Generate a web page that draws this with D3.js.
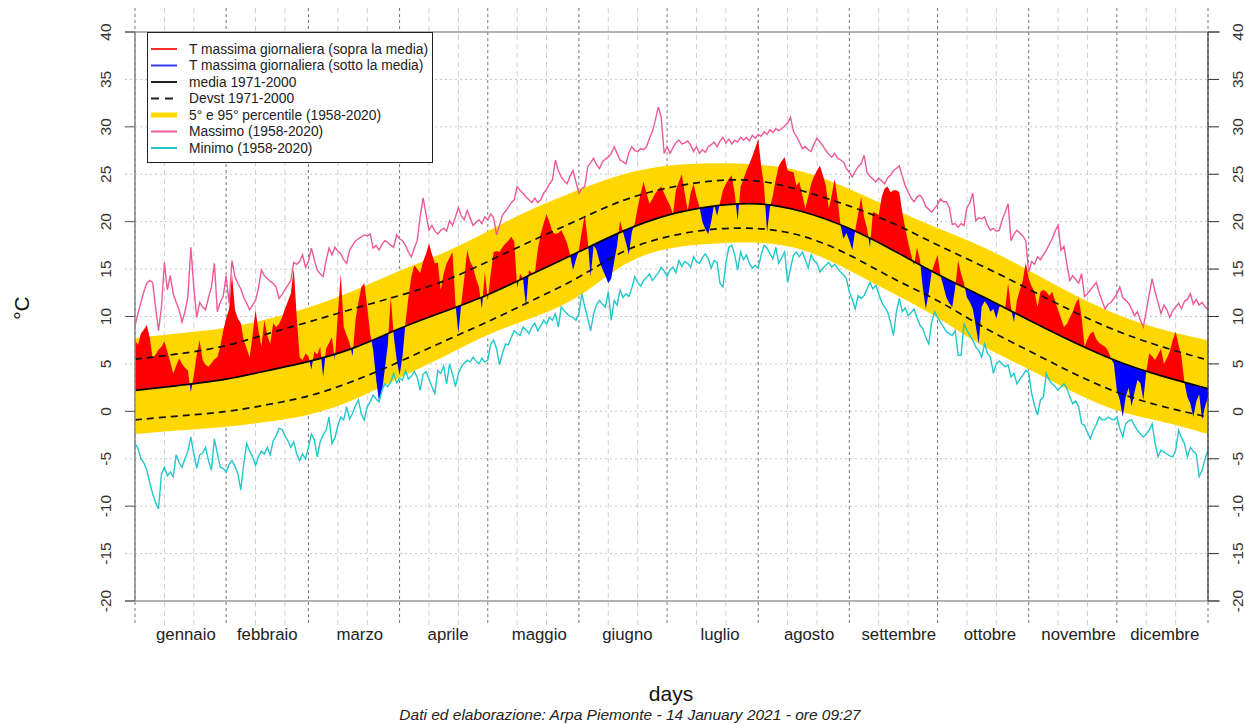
<!DOCTYPE html>
<html>

<head>
    <meta charset="utf-8">
    <style>
        body {
            margin: 0;
            background: #fff;
        }

        svg {
            display: block;
            font-family: "Liberation Sans", Arial, sans-serif;
        }

        .ylab {
            font-size: 15.5px;
            fill: #333;
        }

        .month {
            font-size: 16.8px;
            fill: #222;
        }

        .legend text {
            font-size: 13.8px;
            fill: #222;
        }
    </style>
</head>

<body>
    <svg width="1245" height="724"></svg>
</body>

<script src="https://cdn.jsdelivr.net/npm/d3@7"></script>

<script>
    // climatology, read every ~15 days off the picture
    let climDays = [1, 15, 32, 46, 60, 75, 91, 106, 121, 136, 152, 167, 182, 197, 213, 228, 244, 259, 274, 289, 305, 320, 335, 350, 366]
    let meanT = [2.2, 2.7, 3.3, 4.3, 5.2, 6.5, 8.8, 10.5, 12.2, 14.5, 16.8, 19.1, 20.8, 21.7, 22.1, 21.2, 19.4, 17.0, 14.4, 12.2, 9.6, 7.3, 5.2, 3.7, 2.4]
    let devUp = [5.5, 6.0, 6.8, 8.2, 9.4, 10.8, 12.2, 13.6, 15.8, 18.0, 20.2, 22.4, 23.6, 24.4, 24.5, 23.3, 21.7, 19.9, 17.5, 15.4, 12.9, 10.5, 8.4, 6.8, 5.4]
    let devDown = [-0.9, -0.5, -0.1, 0.7, 1.5, 3.1, 5.2, 7.4, 9.4, 11.7, 14.0, 17.1, 18.5, 19.3, 19.4, 18.7, 16.6, 13.9, 11.8, 8.9, 6.4, 4.0, 1.9, 0.5, -0.6]
    let p95 = [7.7, 8.2, 8.7, 9.7, 10.9, 12.6, 14.9, 16.6, 19.0, 21.4, 23.4, 25.1, 26.0, 26.2, 26.1, 25.5, 23.5, 21.3, 19.3, 17.5, 14.9, 12.3, 10.1, 8.6, 7.5]
    let p5 = [-2.4, -2.0, -1.7, -1.1, -0.5, 1.0, 3.6, 5.7, 8.2, 9.8, 11.8, 15.8, 17.3, 17.7, 17.9, 17.3, 14.9, 12.4, 10.0, 6.8, 4.5, 2.0, -0.1, -1.0, -2.4]

    // daily maximum temperature 2020 (day 1..366)
    let tmax2020 = [
        7.5, 7.0, 8.2, 8.6, 9.1, 7.8, 5.6, 6.0, 6.5, 6.8,
        7.4, 6.3, 5.2, 4.0, 4.8, 5.6, 5.0, 4.6, 4.3, 2.0,
        3.8, 6.0, 7.5, 5.4, 4.9, 4.7, 5.1, 5.5, 5.7, 6.8,
        8.5, 9.8, 10.8, 14.5, 10.7, 9.8, 9.3, 7.5, 6.6, 5.7,
        8.0, 10.7, 8.5, 6.8, 9.6, 8.0, 7.1, 9.3, 8.9, 9.2,
        9.9, 10.8, 11.6, 12.4, 15.1, 10.0, 5.7, 5.4, 6.1, 5.8,
        4.4, 6.3, 6.0, 6.8, 3.6, 6.6, 7.2, 7.8, 5.4, 10.3,
        14.5, 8.9, 8.0, 7.2, 5.8, 9.6, 11.5, 13.1, 13.5, 11.0,
        8.2, 6.5, 3.5, 1.0, 2.0, 4.5, 7.0, 12.1, 8.0, 5.5,
        3.8, 5.8, 9.3, 12.0, 14.2, 15.4, 15.0, 14.6, 15.8, 16.6,
        17.7, 16.6, 15.6, 15.7, 12.8, 14.5, 15.6, 16.2, 16.8, 11.4,
        8.2, 11.4, 14.0, 17.0, 15.8, 15.2, 14.0, 13.1, 10.8, 14.7,
        11.7, 14.5, 16.8, 16.9, 16.8, 17.3, 17.7, 18.0, 18.4, 17.9,
        13.0, 14.5, 14.0, 11.0, 14.9, 14.6, 14.5, 17.0, 18.7, 19.8,
        20.8, 19.9, 18.9, 18.7, 18.8, 19.1, 18.5, 17.7, 16.5, 14.9,
        16.0, 17.0, 19.0, 20.7, 18.0, 14.2, 17.5, 17.0, 15.8, 15.0,
        14.3, 13.5, 14.0, 15.8, 17.5, 20.1, 18.9, 17.8, 16.5, 18.9,
        19.8, 21.5, 23.0, 24.2, 23.0, 21.9, 22.4, 23.0, 23.4, 23.7,
        23.0, 22.3, 21.7, 20.8, 23.3, 24.2, 25.0, 23.0, 21.2, 23.0,
        24.0, 22.6, 21.6, 20.0, 19.2, 18.7, 20.0, 21.8, 20.6, 22.0,
        23.3, 24.0, 24.5, 24.9, 23.0, 20.1, 23.7, 24.5, 25.4, 26.1,
        26.9, 27.8, 28.7, 25.9, 23.7, 18.9, 21.5, 22.8, 24.5, 25.9,
        26.4, 26.8, 25.4, 25.3, 25.2, 23.8, 24.2, 22.8, 21.4, 22.6,
        24.0, 24.8, 25.4, 25.9, 24.9, 23.8, 21.4, 22.8, 24.5, 22.4,
        19.6, 18.2, 18.8, 18.0, 17.0, 19.1, 20.8, 22.6, 20.5, 19.3,
        17.3, 21.0, 20.9, 20.7, 22.6, 23.5, 23.7, 23.1, 23.3, 23.3,
        23.1, 21.0, 19.3, 17.8, 16.5, 15.4, 17.3, 16.0, 13.0, 10.8,
        12.5, 14.7, 15.6, 16.5, 14.3, 13.2, 12.0, 11.4, 11.0, 13.0,
        15.9, 14.5, 13.5, 12.0, 11.5, 10.8, 9.0, 7.1, 11.0, 11.6,
        11.2, 10.5, 10.8, 9.8, 11.0, 11.2, 10.8, 13.5, 10.9, 9.4,
        11.7, 12.8, 13.8, 15.7, 14.0, 13.2, 12.6, 11.0, 12.6, 12.8,
        12.6, 12.2, 12.6, 11.6, 10.7, 9.8, 8.9, 9.2, 9.9, 10.5,
        11.4, 11.9, 10.0, 6.8, 7.6, 8.2, 8.4, 7.6, 7.2, 7.0,
        6.8, 6.4, 5.6, 5.0, 2.2, 1.2, -0.6, 1.5, 2.5, 0.5,
        2.0, 3.3, 3.0, 1.2, 4.2, 6.1, 5.8, 5.4, 6.0, 6.6,
        5.0, 5.6, 6.3, 7.5, 8.4, 7.0, 5.7, 3.0, 1.5, 0.8,
        -0.6, 1.0, 1.8, -0.9, 0.5, 1.5
    ]

    // record maximum 1958-2020
    let recMax = [
        9.0, 10.3, 11.5, 12.6, 13.5, 13.8, 13.6, 11.0, 8.5, 11.0,
        15.7, 12.8, 14.3, 12.4, 11.5, 10.7, 9.4, 10.5, 12.1, 17.3,
        13.1, 9.9, 11.5, 11.0, 10.7, 12.0, 13.1, 15.6, 10.5, 11.5,
        12.1, 14.3, 11.4, 15.9, 14.2, 13.5, 12.9, 12.0, 11.4, 10.7,
        11.2, 11.7, 13.0, 14.9, 14.3, 14.0, 13.7, 13.5, 13.1, 11.9,
        12.3, 12.8, 13.3, 13.8, 15.7, 15.5, 15.8, 16.5, 15.2, 15.8,
        17.2, 16.0, 14.9, 14.5, 14.2, 15.9, 17.2, 16.5, 17.3, 16.9,
        16.6, 16.0, 15.6, 17.0, 17.5, 18.0, 18.2, 18.4, 18.6, 18.5,
        18.7, 17.2, 17.5, 17.0, 17.6, 18.0, 17.8, 17.5, 17.3, 18.6,
        18.2, 18.0, 17.5, 16.8, 16.3, 17.2, 18.0, 20.5, 22.5, 20.8,
        19.1, 19.6, 19.0, 18.7, 19.1, 19.3, 19.0, 20.1, 19.6, 20.5,
        21.5, 20.6, 20.2, 21.2, 20.4, 19.6, 19.9, 20.2, 19.8, 20.5,
        20.2, 20.8, 20.4, 18.6, 19.6, 20.7, 21.1, 21.5, 22.0, 22.3,
        23.7, 23.3, 23.0, 22.6, 22.3, 22.0, 22.5, 22.0, 22.3, 23.0,
        23.4, 24.0, 24.4, 26.5, 25.4, 24.7, 24.3, 24.0, 24.8, 25.4,
        24.2, 23.0, 23.5, 23.7, 25.8, 26.2, 26.7, 26.0, 25.6, 26.3,
        26.6, 26.8, 27.2, 27.9, 27.2, 26.5, 26.3, 26.1, 27.3, 27.9,
        27.5, 27.4, 27.7, 27.6, 27.9, 28.8, 29.5, 30.7, 32.1, 31.0,
        27.2, 27.9, 27.2, 27.8, 28.3, 28.6, 28.2, 28.3, 28.5, 28.1,
        27.4, 27.9, 27.2, 27.6, 27.3, 27.9, 28.1, 28.4, 27.9, 28.5,
        28.9, 28.3, 28.7, 28.2, 28.6, 28.4, 28.9, 28.6, 28.9, 28.5,
        29.1, 28.8, 29.2, 29.0, 29.5, 29.2, 29.7, 29.4, 29.8, 29.6,
        29.8, 30.1, 30.4, 31.0, 29.5, 29.0, 28.4, 27.7, 27.9, 27.6,
        27.4, 28.2, 28.8, 28.4, 28.0, 27.5, 27.1, 26.8, 27.2, 26.7,
        26.5, 26.3, 25.6, 25.2, 24.7, 25.3, 25.8, 26.1, 27.0, 25.2,
        24.8, 24.5, 24.2, 24.6, 24.3, 24.0, 24.6, 24.9, 25.4, 25.6,
        25.9, 24.8, 23.8, 23.1, 22.5, 22.1, 22.6, 22.8, 22.4, 21.6,
        21.3, 21.0, 21.4, 21.8, 22.4, 22.1, 22.1, 21.5, 19.7, 19.8,
        19.4, 19.8, 19.6, 21.5, 22.0, 23.0, 20.1, 20.4, 20.3, 20.5,
        19.6, 19.1, 19.3, 19.0, 19.1, 20.2, 21.0, 21.9, 18.0, 18.7,
        19.1, 18.8, 18.5, 18.0, 14.7, 15.8, 15.5, 16.3, 16.0, 16.5,
        17.0, 17.6, 18.2, 19.0, 19.6, 17.0, 17.4, 15.5, 13.8, 14.3,
        13.9, 13.5, 14.5, 12.1, 12.4, 12.8, 13.2, 13.6, 12.5, 11.6,
        10.8, 11.3, 11.5, 11.9, 12.4, 13.1, 12.0, 11.7, 11.4, 10.8,
        10.1, 10.5, 9.6, 8.9, 10.6, 12.3, 14.0, 12.6, 11.5, 10.3,
        11.2, 10.7, 9.9, 10.6, 11.0, 11.4, 10.8, 11.6, 11.8, 12.4,
        11.3, 11.8, 11.2, 11.5, 11.0, 10.8
    ]

    // record minimum 1958-2020
    let recMin = [
        -3.4, -3.9, -5.0, -5.4, -6.2, -7.5, -8.7, -9.6, -10.3, -6.6,
        -5.9, -6.8, -6.4, -6.9, -4.6, -5.4, -5.9, -5.0, -4.2, -2.7,
        -4.5, -6.0, -4.6, -4.4, -3.8, -5.2, -6.2, -2.9, -4.4, -5.9,
        -6.0, -6.4, -5.6, -5.2, -5.8, -6.6, -8.3, -5.5, -3.4, -4.2,
        -4.8, -5.7, -4.8, -4.2, -4.5, -3.8, -4.6, -3.1, -2.6, -1.8,
        -1.9, -2.6, -3.1, -3.8, -3.2, -4.5, -5.2, -4.5, -5.0, -3.8,
        -2.4, -3.0, -4.8, -3.2, -2.5, -2.0, -0.6, -3.4, -2.8, -1.5,
        -0.6, -0.9, 0.5, -0.8, -0.2, 0.6, 1.2, -0.3, -0.9, 0.5,
        1.0, 1.7, 1.3, 1.0, 2.2, 2.9, 2.6, 3.1, 4.0, 3.0,
        3.5, 3.3, 4.3, 3.4, 3.7, 4.2, 3.6, 2.2, 3.9, 4.2,
        3.4, 2.6, 1.9, 4.3, 4.0, 4.8, 2.9, 5.0, 3.9, 2.6,
        4.0, 4.7, 5.1, 5.4, 5.2, 5.7, 5.3, 5.0, 5.6, 5.2,
        5.4, 7.1, 7.5, 6.6, 4.9, 6.1, 7.1, 7.0, 7.8, 8.5,
        8.2, 8.0, 8.9, 8.6, 8.2, 8.9, 9.3, 8.5, 9.0, 9.6,
        9.2, 9.9, 9.6, 10.3, 8.9, 11.0, 10.6, 10.3, 10.0, 9.9,
        9.6, 10.3, 12.4, 11.0, 9.8, 8.5, 10.3, 11.2, 11.7, 11.3,
        11.0, 12.6, 9.6, 11.7, 11.2, 12.8, 12.0, 12.4, 12.1, 13.0,
        14.2, 13.6, 13.2, 13.8, 14.1, 14.5, 13.8, 14.2, 14.6, 15.2,
        14.8, 14.2, 14.9, 15.2, 14.6, 15.9, 15.3, 15.8, 15.6, 15.2,
        16.3, 15.8, 15.6, 16.2, 16.6, 16.1, 15.1, 15.9, 15.7, 13.5,
        13.1, 15.6, 17.3, 17.5, 16.5, 14.9, 16.8, 16.0, 16.5, 15.6,
        15.1, 15.4, 15.1, 16.5, 17.5, 17.2, 16.6, 16.1, 17.3, 15.6,
        16.2, 16.8, 13.6, 15.1, 16.5, 16.8, 16.3, 16.8, 16.0, 15.1,
        16.5, 15.9, 15.6, 14.7, 15.1, 15.4, 15.7, 15.2, 15.5, 15.1,
        14.7, 14.4, 14.0, 12.6, 11.8, 10.8, 12.2, 11.9, 12.2, 12.9,
        13.6, 12.9, 13.3, 12.4, 11.5, 11.0, 10.5, 9.4, 8.0, 10.5,
        11.9, 10.5, 10.9, 10.1, 10.4, 10.8, 9.9, 9.1, 8.7, 7.8,
        7.1, 9.4, 10.5, 9.9, 9.4, 8.9, 8.4, 8.2, 8.0, 8.5,
        5.9, 5.9, 9.3, 8.5, 8.0, 7.5, 6.8, 6.4, 5.7, 7.1,
        6.1, 5.7, 4.0, 5.0, 5.3, 5.0, 4.7, 4.9, 3.6, 4.0,
        2.9, 3.4, 3.8, 4.3, 4.1, 1.9, 0.6, -0.4, 1.2, 1.5,
        4.0, 3.3, 2.9, 2.6, 2.2, 2.6, 2.9, 2.4, 1.5, 0.8,
        1.1, 0.5, -1.3, -1.5, -2.2, -2.9, -2.0, -1.4, -0.6, -0.9,
        -0.9, -0.6, -0.8, -0.9, -0.6, -1.8, -2.7, -1.3, -1.0, -0.9,
        -1.5, -2.0, -2.4, -2.7, -2.4, -2.0, -1.3, -3.4, -4.8, -4.1,
        -4.3, -4.5, -4.7, -4.8, -4.1, -2.0, -2.8, -3.4, -4.8, -3.8,
        -4.2, -4.5, -6.9, -6.2, -5.0, -4.1
    ]

    let monthStarts = [1, 32, 60, 91, 121, 152, 182, 213, 244, 274, 305, 335, 366]
    let monthNames = ["gennaio", "febbraio", "marzo", "aprile", "maggio", "giugno", "luglio", "agosto", "settembre", "ottobre", "novembre", "dicembre"]
    let monthLabelDays = [18.3, 46, 77.5, 107.5, 138.5, 168.5, 200, 230.3, 260.8, 291.8, 322, 351.3]
    let yTicks = [-20, -15, -10, -5, 0, 5, 10, 15, 20, 25, 30, 35, 40]

    let legendLabels = [
        "T massima giornaliera (sopra la media)",
        "T massima giornaliera (sotto la media)",
        "media 1971-2000",
        "Devst 1971-2000",
        "5° e 95° percentile (1958-2020)",
        "Massimo (1958-2020)",
        "Minimo (1958-2020)"
    ]
    let footer = "Dati ed elaborazione: Arpa Piemonte - 14 January 2021 - ore 09:27"

    let svg = d3.select("svg")

    let x = d3.scaleLinear().domain([1, 366]).range([135, 1208])
    let y = d3.scaleLinear().domain([-20, 40]).range([601, 32])

    // plot region (grid lines run a bit past the axes)
    let regLeft = 125, regRight = 1220, regTop = 8, regBottom = 626

    let daily = arr => arr.map((v, i) => ({ day: i + 1, v: v }))
    let clim = arr => arr.map((v, i) => ({ day: climDays[i], v: v }))

    // grid
    let grid = svg.append("g").attr("class", "grid")
    grid.selectAll(".hgrid")
        .data(yTicks.filter(t => t > -20 && t < 40))
        .join("line")
        .attr("x1", regLeft).attr("x2", regRight)
        .attr("y1", d => y(d)).attr("y2", d => y(d))
        .attr("stroke", "#c8c8c8")
        .attr("stroke-dasharray", "2,3")

    let minorDays = monthStarts.slice(0, 12).flatMap(d => [d + 10, d + 20])
    grid.selectAll(".vminor")
        .data(minorDays)
        .join("line")
        .attr("x1", d => x(d)).attr("x2", d => x(d))
        .attr("y1", regTop).attr("y2", regBottom)
        .attr("stroke", "#cfcfcf")
        .attr("stroke-dasharray", "5,4")

    grid.selectAll(".vmajor")
        .data(monthStarts)
        .join("line")
        .attr("x1", d => x(d)).attr("x2", d => x(d))
        .attr("y1", regTop).attr("y2", regBottom)
        .attr("stroke", "#777")
        .attr("stroke-dasharray", "3,3")

    grid.selectAll(".hframe")
        .data([-20, 40])
        .join("line")
        .attr("x1", regLeft).attr("x2", regRight)
        .attr("y1", d => y(d)).attr("y2", d => y(d))
        .attr("stroke", "#999")
        .attr("stroke-width", 1.5)

    // percentile band
    let band = d3.area()
        .x((d, i) => x(climDays[i]))
        .y0((d, i) => y(p5[i]))
        .y1(d => y(d))
        .curve(d3.curveBasis)

    svg.append("path")
        .attr("d", band(p95))
        .attr("fill", "#FFD700")

    // clip regions above / below the mean
    let defs = svg.append("defs")
    defs.append("clipPath").attr("id", "above")
        .append("path")
        .attr("d", d3.area().x(d => x(d.day)).y0(0).y1(d => y(d.v)).curve(d3.curveBasis)(clim(meanT)))
    defs.append("clipPath").attr("id", "below")
        .append("path")
        .attr("d", d3.area().x(d => x(d.day)).y0(724).y1(d => y(d.v)).curve(d3.curveBasis)(clim(meanT)))

    let tData = daily(tmax2020)

    svg.append("path")
        .attr("d", d3.area().x(d => x(d.day)).y0(y(-25)).y1(d => y(d.v))(tData))
        .attr("fill", "#FF0000")
        .attr("clip-path", "url(#above)")

    svg.append("path")
        .attr("d", d3.area().x(d => x(d.day)).y0(y(45)).y1(d => y(d.v))(tData))
        .attr("fill", "#0000FF")
        .attr("clip-path", "url(#below)")

    // climatology lines
    let climLine = d3.line().x(d => x(d.day)).y(d => y(d.v)).curve(d3.curveBasis)

    svg.selectAll(".dev")
        .data([devUp, devDown])
        .join("path")
        .attr("d", d => climLine(clim(d)))
        .attr("fill", "none")
        .attr("stroke", "#111")
        .attr("stroke-width", 1.7)
        .attr("stroke-dasharray", "7,5")

    svg.append("path")
        .attr("d", climLine(clim(meanT)))
        .attr("fill", "none")
        .attr("stroke", "#000")
        .attr("stroke-width", 1.7)

    // records
    let dayLine = d3.line().x(d => x(d.day)).y(d => y(d.v))

    svg.append("path")
        .attr("d", dayLine(daily(recMax)))
        .attr("fill", "none")
        .attr("stroke", "#EE5A98")
        .attr("stroke-width", 1.4)

    svg.append("path")
        .attr("d", dayLine(daily(recMin)))
        .attr("fill", "none")
        .attr("stroke", "#22C8CC")
        .attr("stroke-width", 1.4)

    // axes
    svg.append("line")
        .attr("x1", x(1)).attr("x2", x(1))
        .attr("y1", y(-20)).attr("y2", y(40))
        .attr("stroke", "#888").attr("stroke-width", 1.5)

    svg.append("line")
        .attr("x1", x(366)).attr("x2", x(366))
        .attr("y1", y(-20)).attr("y2", y(40))
        .attr("stroke", "#333").attr("stroke-width", 1.2)

    svg.selectAll(".ltick")
        .data(yTicks.filter(t => t % 10 == 0))
        .join("line")
        .attr("x1", x(1) - 10).attr("x2", x(1))
        .attr("y1", d => y(d)).attr("y2", d => y(d))
        .attr("stroke", "#555")

    svg.selectAll(".rtick")
        .data(yTicks)
        .join("line")
        .attr("x1", x(366)).attr("x2", x(366) + 11)
        .attr("y1", d => y(d)).attr("y2", d => y(d))
        .attr("stroke", "#333")

    svg.selectAll(".llab")
        .data(yTicks)
        .join("text")
        .attr("class", "ylab")
        .attr("text-anchor", "middle")
        .attr("transform", d => `translate(111,${y(d)}) rotate(-90)`)
        .text(d => d)

    svg.selectAll(".rlab")
        .data(yTicks)
        .join("text")
        .attr("class", "ylab")
        .attr("text-anchor", "middle")
        .attr("transform", d => `translate(1243,${y(d)}) rotate(-90)`)
        .text(d => d)

    svg.selectAll(".month")
        .data(monthNames)
        .join("text")
        .attr("class", "month")
        .attr("text-anchor", "middle")
        .attr("x", (d, i) => x(monthLabelDays[i]))
        .attr("y", 640)
        .text(d => d)

    svg.append("text")
        .attr("text-anchor", "middle")
        .attr("transform", "translate(29,308) rotate(-90)")
        .style("font-size", "21px")
        .attr("fill", "#111")
        .text("°C")

    svg.append("text")
        .attr("text-anchor", "middle")
        .attr("x", 671).attr("y", 701)
        .style("font-size", "21px")
        .attr("fill", "#111")
        .text("days")

    svg.append("text")
        .attr("text-anchor", "middle")
        .attr("x", 630).attr("y", 719.5)
        .style("font-size", "15.5px")
        .style("font-style", "italic")
        .attr("fill", "#222")
        .text(footer)

    // legend
    let legend = svg.append("g").attr("class", "legend")
    legend.append("rect")
        .attr("x", 147.5).attr("y", 32.5)
        .attr("width", 285).attr("height", 130)
        .attr("fill", "#fff")
        .attr("stroke", "#222")

    let lColors = ["#FF2A2A", "#3A3AFF", "#222", "#222", "#FFD700", "#EE5A98", "#22C8CC"]
    let lWidths = [2, 2, 2, 2, 5, 2, 2]
    let lDash = [null, null, null, "8,6", null, null, null]

    legendLabels.forEach((label, i) => {
        let ly = 49 + i * 16.5
        legend.append("line")
            .attr("x1", 151).attr("x2", 177)
            .attr("y1", ly).attr("y2", ly)
            .attr("stroke", lColors[i])
            .attr("stroke-width", lWidths[i])
            .attr("stroke-dasharray", lDash[i])
        legend.append("text")
            .attr("x", 189).attr("y", ly + 4.8)
            .text(label)
    })
</script>

</html>
